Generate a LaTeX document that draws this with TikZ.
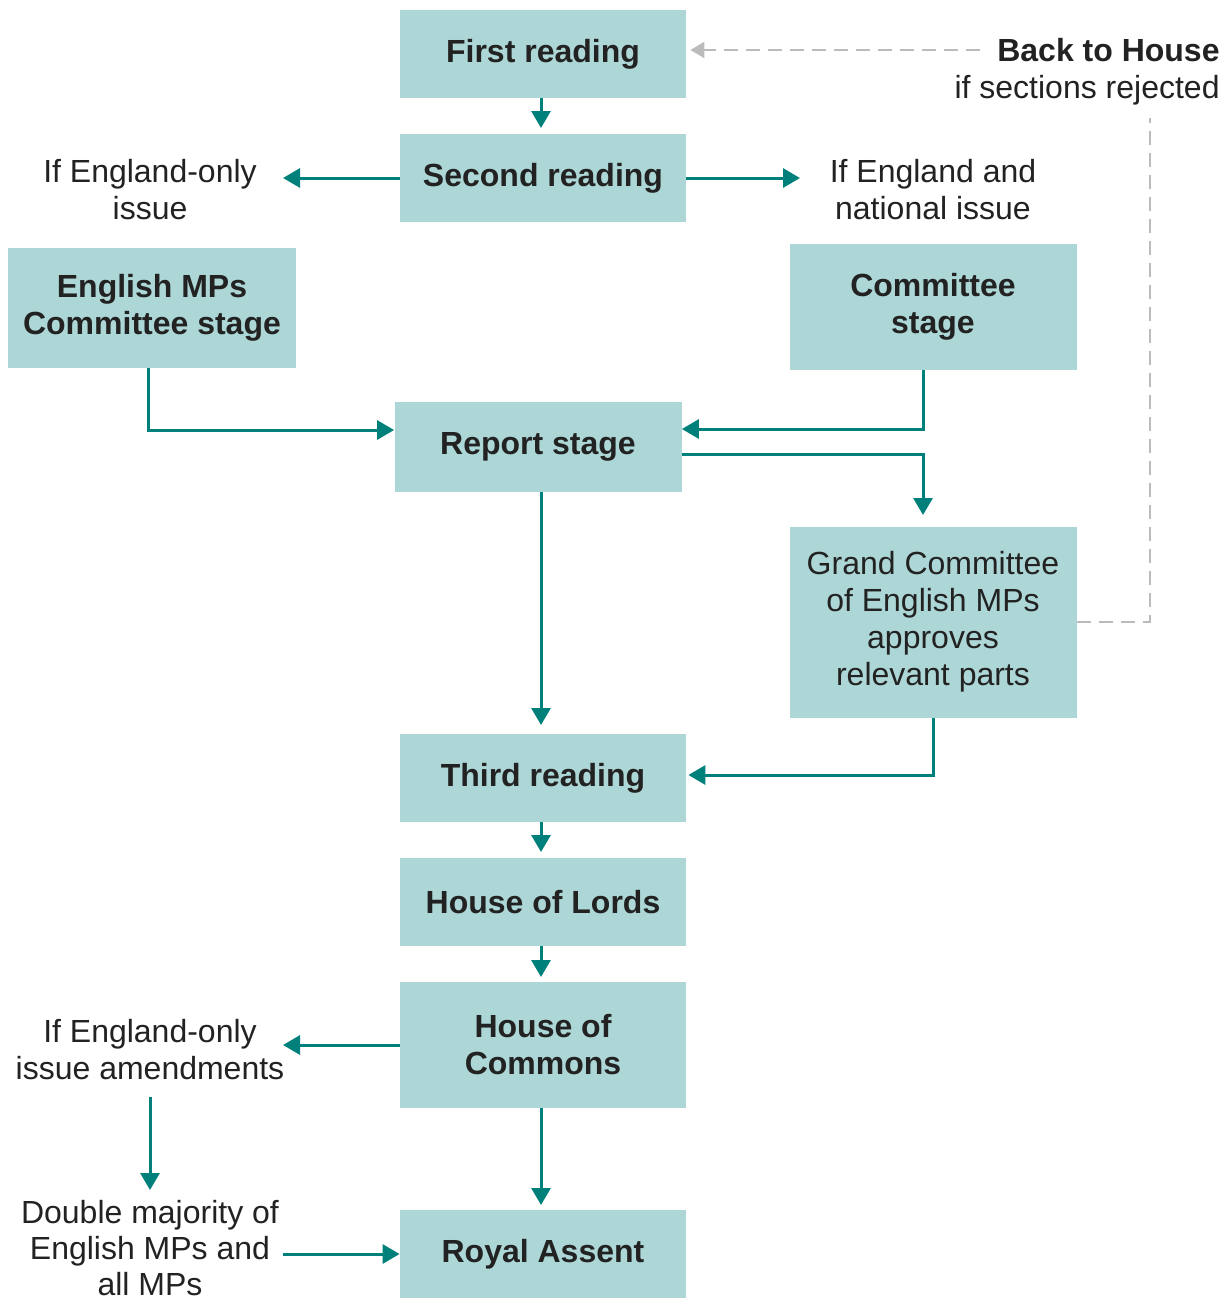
\documentclass[tikz,border=0pt]{standalone}
\usepackage{fontspec}
\setmainfont{Liberation Sans}
\usetikzlibrary{arrows.meta}
\definecolor{boxfill}{HTML}{ADD6D6}
\definecolor{teal2}{HTML}{00807A}
\definecolor{txt}{HTML}{222222}
\definecolor{dgray}{HTML}{BBBBBB}
\tikzset{
  stagebox/.style={fill=boxfill, draw=none, inner sep=0pt, align=center, text=txt,
    font=\fontsize{16}{18.5}\selectfont\bfseries},
  plainbox/.style={fill=boxfill, draw=none, inner sep=0pt, align=center, text=txt,
    font=\fontsize{16}{18.5}\selectfont},
  label/.style={inner sep=0pt, align=center, text=txt, font=\fontsize{16}{18.5}\selectfont},
  flow/.style={draw=teal2, line width=1.5pt, -{Triangle[width=9.5pt,length=8.5pt]}},
  backflow/.style={draw=dgray, line width=1.1pt, dash pattern=on 7pt off 4pt},
  backarrow/.style={backflow, -{Triangle[width=8pt,length=7pt]}}
}
\begin{document}
\begin{tikzpicture}[x=0.5pt,y=-0.5pt]
\useasboundingbox (0,0) rectangle (1225,1303);
% boxes
\node[stagebox, minimum width=143pt, minimum height=44pt] (first) at (543,54) {First reading};
\node[stagebox, minimum width=143pt, minimum height=44pt] (second) at (543,178) {Second reading};
\node[stagebox, minimum width=144pt, minimum height=60pt] (engmp) at (152,308) {English MPs\\Committee stage};
\node[stagebox, minimum width=143.5pt, minimum height=63pt] (comm) at (933,307) {Committee\\stage};
\node[stagebox, minimum width=143.5pt, minimum height=45pt] (report) at (538,447) {Report stage};
\node[plainbox, minimum width=143.5pt, minimum height=95.5pt] (grand) at (933,622) {Grand Committee\\of English MPs\\approves\\relevant parts};
\node[stagebox, minimum width=143pt, minimum height=44pt] (third) at (543,778) {Third reading};
\node[stagebox, minimum width=143pt, minimum height=44pt] (lords) at (543,902) {House of Lords};
\node[stagebox, minimum width=143pt, minimum height=63pt] (commons) at (543,1045) {House of\\Commons};
\node[stagebox, minimum width=143pt, minimum height=44pt] (royal) at (543,1254) {Royal Assent};
% labels
\node[label] (engonly) at (150,190) {If England-only\\issue};
\node[label] (engnat) at (933,190) {If England and\\national issue};
\node[label] (amend) at (150,1050) {If England-only\\issue amendments};
\node[label, font=\fontsize{16}{18}\selectfont] (double) at (150,1248) {Double majority of\\English MPs and\\all MPs};
\node[label, align=right, anchor=east] (back) at (1220,72) {\textbf{Back to House}\\if sections rejected};
% coordinates
\coordinate (backtop) at (1150,118);
\coordinate (backstart) at (980,50);
% flows
\draw[flow] (first.south -| 541,0) -- (541,128);
\draw[flow] (second.west) -- (283,178);
\draw[flow] (second.east) -- (800,178);
\draw[flow] (148,368) -- (148,430) -- (report.west |- 0,430);
\draw[flow] (923,370) -- (923,429) -- (report.east |- 0,429);
\draw[flow] (report.east |- 0,454) -- (923,454) -- (923,515);
\draw[flow] (report.south -| 541,0) -- (541,725);
\draw[flow] (933,718) -- (933,775) -- ([xshift=1pt]third.east |- 0,775);
\draw[flow] (third.south -| 541,0) -- (541,852);
\draw[flow] (lords.south -| 541,0) -- (541,977);
\draw[flow] (commons.west) -- (283,1045);
\draw[flow] (commons.south -| 541,0) -- (541,1205);
\draw[flow] (150,1097) -- (150,1190);
\draw[flow] (283,1254) -- (royal.west);
% back to house
\draw[backflow] (grand.east) -- (1150,622) -- (backtop);
\draw[backarrow] (backstart) -- ([xshift=2pt]first.east |- backstart);
\end{tikzpicture}
\end{document}
